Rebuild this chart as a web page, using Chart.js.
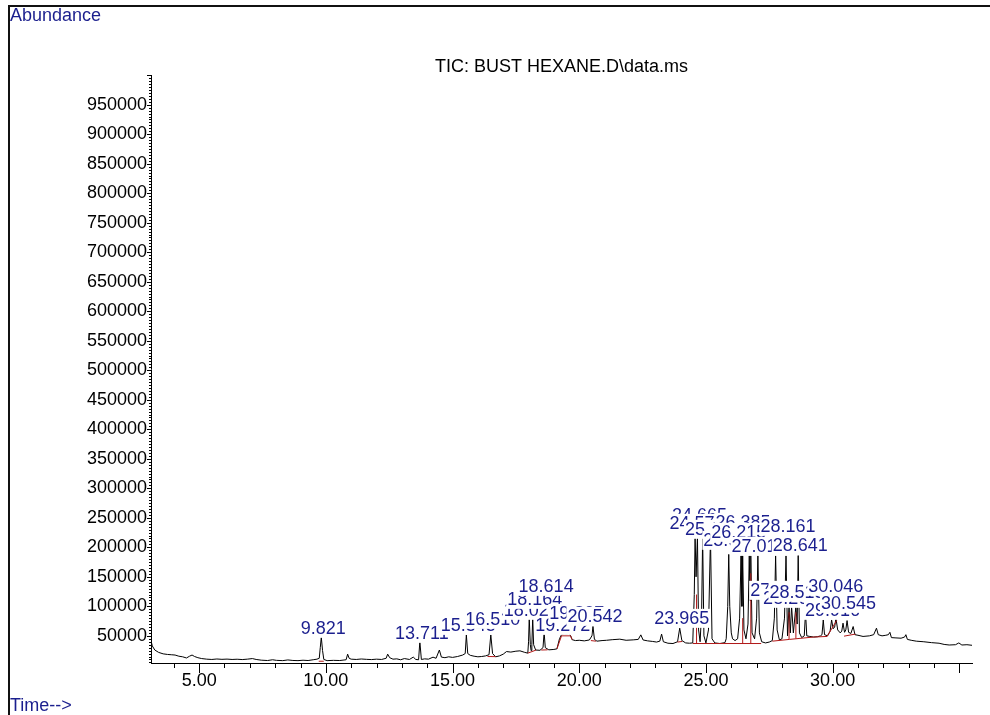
<!DOCTYPE html>
<html lang="en">
<head>
<meta charset="UTF-8">
<title>TIC: BUST HEXANE.D\data.ms</title>
<script src="https://cdn.jsdelivr.net/npm/chart.js"></script>
<style>
  html, body { margin: 0; padding: 0; background: #fff; }
  #wrap { position: relative; width: 990px; height: 715px; overflow: hidden; }
  #tic { position: absolute; left: 0; top: 0; }
  #frame { position: absolute; left: 8px; top: 5px; width: 1000px; height: 730px;
           border-left: 2px solid #111; border-top: 2px solid #111; }
  .corner { position: absolute; left: 10px; font: 18px "Liberation Sans", Arial, sans-serif;
            line-height: 18px; color: #1b1f8e; white-space: nowrap; }
</style>
</head>
<body>
<div id="wrap">
  <canvas id="tic" width="990" height="715"></canvas>
  <div id="frame"></div>
  <div class="corner" style="top:6px">Abundance</div>
  <div class="corner" style="top:696px">Time--&gt;</div>
</div>

<script>
// TIC trace: retention time (min) / abundance
const retTimes = [
  3.10, 3.15, 3.25, 3.40, 3.58, 3.75, 3.90, 4.05, 4.20, 4.35, 4.50, 4.62, 4.72, 4.82, 4.95,
  5.10, 5.30, 5.50, 5.70, 5.90, 6.10, 6.30, 6.50, 6.70, 6.90, 7.10, 7.25, 7.45, 7.70, 7.90,
  8.05, 8.30, 8.50, 8.70, 8.90, 9.10, 9.30, 9.50, 9.65, 9.74, 9.78, 9.82, 9.87, 9.92,
  10.05, 10.30, 10.55, 10.80, 10.86, 10.92, 11.00, 11.20, 11.40, 11.60, 11.80, 12.00, 12.20,
  12.38, 12.44, 12.52, 12.65, 12.80, 12.95, 13.10, 13.30, 13.45, 13.55, 13.66, 13.71, 13.77,
  13.90, 14.05, 14.23, 14.35, 14.48, 14.56, 14.70, 14.85, 15.00, 15.20, 15.40, 15.50, 15.545,
  15.60, 15.70, 15.85, 16.00, 16.15, 16.30, 16.44, 16.51, 16.58, 16.70, 16.85, 17.00, 17.13,
  17.30, 17.50, 17.66, 17.85, 17.97, 18.00, 18.027, 18.07, 18.10, 18.13, 18.164, 18.20, 18.28,
  18.45, 18.57, 18.614, 18.66, 18.80, 19.00, 19.12, 19.22, 19.30, 19.40, 19.50, 19.60, 19.66,
  19.72, 19.85, 20.00, 20.20, 20.40, 20.50, 20.542, 20.60, 20.70, 20.90, 21.08, 21.30, 21.60,
  21.85, 22.13, 22.33, 22.43, 22.52, 22.70, 22.90, 23.05, 23.18, 23.25, 23.32, 23.50, 23.70,
  23.88, 23.965, 24.05, 24.20, 24.35, 24.48, 24.54, 24.572, 24.61, 24.665, 24.71, 24.77, 24.83,
  24.87, 24.92, 25.00, 25.10, 25.18, 25.24, 25.35, 25.55, 25.75, 25.80, 25.86, 25.90, 25.94,
  26.00, 26.05, 26.15, 26.25, 26.33, 26.385, 26.42, 26.45, 26.50, 26.58, 26.66, 26.71, 26.74,
  26.77, 26.82, 26.92, 27.00, 27.05, 27.11, 27.20, 27.35, 27.50, 27.62, 27.70, 27.75, 27.81,
  27.90, 28.00, 28.10, 28.16, 28.22, 28.28, 28.33, 28.38, 28.45, 28.55, 28.60, 28.641, 28.69,
  28.78, 28.88, 28.93, 28.98, 29.10, 29.25, 29.40, 29.52, 29.58, 29.63, 29.68, 29.80, 29.90,
  29.96, 30.02, 30.08, 30.13, 30.20, 30.30, 30.36, 30.41, 30.47, 30.52, 30.57, 30.63, 30.72,
  30.81, 30.88, 31.00, 31.20, 31.45, 31.62, 31.73, 31.80, 31.95, 32.10, 32.20, 32.26, 32.32,
  32.50, 32.70, 32.84, 32.89, 32.95, 33.10, 33.30, 33.60, 33.90, 34.20, 34.40, 34.60, 34.85,
  34.98, 35.10, 35.30, 35.50
];
const abundance = [
  42000, 33000, 26000, 22000, 19500, 18500, 18000, 17500, 15500, 14500, 12500, 15500, 17500, 15000, 13000,
  11500, 10500, 10000, 10800, 10200, 10600, 10000, 10400, 9800, 10500, 11500, 10000, 8800, 8200, 9500,
  8500, 8000, 9200, 8300, 8000, 8700, 8200, 9500, 10500, 12000, 30000, 47800, 25000, 10000,
  8000, 8500, 8200, 9500, 19000, 12000, 10500, 10000, 10800, 10200, 9800, 10500, 10000,
  12000, 19000, 13000, 10500, 11000, 9500, 11500, 10000, 14000, 10000, 9500, 40300, 10000,
  11000, 10500, 13900, 12000, 26000, 14000, 13000, 14500, 13500, 15000, 17500, 20000, 51700,
  20000, 17000, 15500, 14500, 15000, 16000, 18000, 51700, 20000, 14500, 16000, 19000, 23400,
  22500, 24000, 24600, 22000, 20700, 40000, 80000, 35000, 25000, 35000, 80000, 35000, 26000,
  25500, 30000, 55600, 30000, 26300, 27000, 28000, 45000, 52000, 53400, 53000, 54000, 50000,
  43500, 42000, 42500, 41500, 43000, 50000, 65800, 44000, 41000, 42000, 42500, 43500, 44400,
  42500, 43200, 44000, 51700, 43000, 41500, 40500, 39500, 41000, 53000, 40000, 37500, 37000,
  40000, 63000, 42000, 38000, 37500, 38000, 120000, 218000, 150000, 218000, 60000, 40000, 90000,
  218000, 50000, 38000, 60000, 218000, 45000, 38000, 37000, 38500, 45000, 100000, 188000, 100000,
  55000, 45000, 42000, 45000, 80000, 186000, 100000, 186000, 60000, 45000, 70000, 186000, 110000,
  186000, 55000, 45000, 80000, 186000, 55000, 40000, 38000, 39500, 42000, 80000, 186000, 60000,
  43000, 45000, 80000, 186000, 50000, 100000, 55000, 100000, 55000, 100000, 70000, 186000, 55000,
  47000, 50000, 90000, 50000, 49000, 48000, 48500, 50000, 52000, 77000, 52000, 50000, 58000,
  77000, 62000, 65000, 80000, 60000, 55000, 58000, 71500, 56000, 60000, 75900, 56000, 54000,
  65800, 52000, 51000, 49000, 50000, 52000, 63000, 52000, 50000, 51000, 52000, 56000, 47000,
  46500, 46000, 48000, 52000, 44000, 42500, 41000, 40000, 38500, 37500, 35500, 34500, 35000,
  38000, 34500, 35000, 34000
];

// red integration baselines and drop lines (null ends a segment)
const baseTimes = [
  9.72, 9.92, 9.92,
  16.38, 16.70, 16.70,
  17.97, 18.30, 18.30,
  18.50, 18.75, 18.75,
  19.12, 19.30, 19.66, 19.72, 19.72,
  20.46, 20.66, 20.66,
  23.88, 24.06, 24.06,
  24.48, 27.18, 27.18,
  24.63, 24.63, 24.63,
  26.45, 26.45, 26.45,
  26.77, 26.77, 26.77,
  27.62, 28.30, 29.25, 29.78, 30.16, 30.16,
  28.28, 28.28, 28.28,
  28.55, 28.55, 28.55,
  30.45, 30.90
];
const baseLevels = [
  7000, 7000, null,
  15000, 14800, null,
  20700, 26000, null,
  26000, 26300, null,
  28000, 50000, 50000, 43500, null,
  42000, 41000, null,
  39500, 40500, null,
  37000, 37000, null,
  37000, 120000, null,
  37000, 80000, null,
  37000, 156000, null,
  41000, 44000, 48000, 49000, 76000, null,
  44000, 90000, null,
  45500, 90000, null,
  49500, 53000
];

// peak labels, in drawing order, and the abundance their text is centred on
const peakLabels = [
  '9.821', '13.711', '15.545', '16.510', '18.027', '18.164', '18.614', '19.272', '19.827',
  '20.542', '23.965', '24.665', '24.572', '25.180', '26.385', '25.905', '26.215', '28.161',
  '27.012', '28.641', '27.752', '28.264', '28.515', '30.046', '29.916', '30.545'
];
const labelLevels = [
  61900, 53400, 66900, 77100, 92400, 111000, 133000, 66900, 87300,
  82200, 78800, 253400, 239800, 229700, 241500, 211000, 224600, 234700,
  200800, 202500, 126300, 112700, 122900, 133000, 92400, 104200
];

// axis ticks (the 35 min tick has no label on the original)
const xTicks = [4, 5, 6, 7, 8, 9, 10, 11, 12, 13, 14, 15, 16, 17, 18, 19, 20,
                21, 22, 23, 24, 25, 26, 27, 28, 29, 30, 31, 32, 33, 34, 35];
const xLabels = [5, 10, 15, 20, 25, 30];
const yLabels = [50000, 100000, 150000, 200000, 250000, 300000, 350000, 400000, 450000, 500000,
                 550000, 600000, 650000, 700000, 750000, 800000, 850000, 900000, 950000];

const FONT = '"Liberation Sans", Arial, sans-serif';
const BLUE = '#1b1f8e';

// minor y ticks every 5000 make the dotted look of the axis
const yTickValues = [];
for (let v = 5000; v <= 1000000; v += 5000) yTickValues.push(v);

const trace = retTimes.map((t, i) => ({ x: t, y: abundance[i] }));
const baseline = baseTimes.map((t, i) => ({ x: t, y: baseLevels[i] }));

// tick marks: long ones on every 5 min / 50000, short ones between
const tickMarks = {
  id: 'tickMarks',
  afterDraw(chart) {
    const { ctx, scales: { x, y } } = chart;
    ctx.save();
    ctx.strokeStyle = '#000';
    ctx.lineWidth = 1;
    ctx.beginPath();
    x.ticks.forEach(t => {
      const px = Math.round(x.getPixelForValue(t.value)) + 0.5;
      const len = t.value % 5 === 0 ? 10 : 5;
      ctx.moveTo(px, x.top);
      ctx.lineTo(px, x.top + len);
    });
    y.ticks.forEach(t => {
      const py = Math.round(y.getPixelForValue(t.value)) + 0.5;
      const len = t.value % 50000 === 0 ? 4 : 2;
      ctx.moveTo(y.right - len, py);
      ctx.lineTo(y.right, py);
    });
    ctx.stroke();
    ctx.restore();
  }
};

// retention time labels on white boxes, later ones cover earlier ones
const peakTags = {
  id: 'peakTags',
  afterDatasetsDraw(chart) {
    const { ctx, scales: { x, y } } = chart;
    ctx.save();
    ctx.font = '18px ' + FONT;
    ctx.textAlign = 'center';
    ctx.textBaseline = 'middle';
    peakLabels.forEach((txt, i) => {
      const px = x.getPixelForValue(parseFloat(txt)) + 2;
      const py = y.getPixelForValue(labelLevels[i]);
      const w = ctx.measureText(txt).width;
      ctx.fillStyle = '#fff';
      ctx.fillRect(px - w / 2 - 1, py - 10, w + 2, 19);
      ctx.fillStyle = BLUE;
      ctx.fillText(txt, px, py);
    });
    ctx.restore();
  }
};

Chart.defaults.font.family = FONT;

new Chart(document.getElementById('tic'), {
  type: 'line',
  data: {
    datasets: [
      { label: 'baseline', data: baseline, borderColor: '#b01818', borderWidth: 1,
        pointRadius: 0, spanGaps: false, order: 0 },
      { label: 'TIC', data: trace, borderColor: '#000', borderWidth: 1,
        pointRadius: 0, order: 1 }
    ]
  },
  options: {
    responsive: false,
    animation: false,
    devicePixelRatio: 1,
    layout: { padding: { left: 0, right: 18, top: 59, bottom: 0 } },
    elements: { line: { tension: 0 } },
    plugins: {
      legend: { display: false },
      tooltip: { enabled: false },
      title: {
        display: true,
        text: 'TIC: BUST HEXANE.D\\data.ms',
        fullSize: false,
        color: '#000',
        font: { size: 18, weight: 'normal', lineHeight: 0.9 },
        padding: 0
      }
    },
    scales: {
      x: {
        type: 'linear',
        min: 3.1,
        max: 35.5,
        afterBuildTicks: s => { s.ticks = xTicks.map(v => ({ value: v })); },
        afterFit: s => { s.height = 52; },
        grid: { display: true, drawOnChartArea: false, drawTicks: false },
        border: { display: true, color: '#000', width: 1 },
        ticks: {
          autoSkip: false, maxRotation: 0, padding: 7, color: '#000',
          font: { size: 18 },
          callback: v => (xLabels.includes(v) ? v.toFixed(2) : '')
        }
      },
      y: {
        min: 4000,
        max: 1000000,
        afterBuildTicks: s => { s.ticks = yTickValues.map(v => ({ value: v })); },
        afterFit: s => { s.width = 151; },
        grid: { display: true, drawOnChartArea: false, drawTicks: false },
        border: { display: true, color: '#000', width: 1 },
        ticks: {
          autoSkip: false, padding: 4, color: '#000',
          font: { size: 18 },
          callback: v => (yLabels.includes(v) ? String(v) : '')
        }
      }
    }
  },
  plugins: [tickMarks, peakTags]
});
</script>
</body>
</html>
